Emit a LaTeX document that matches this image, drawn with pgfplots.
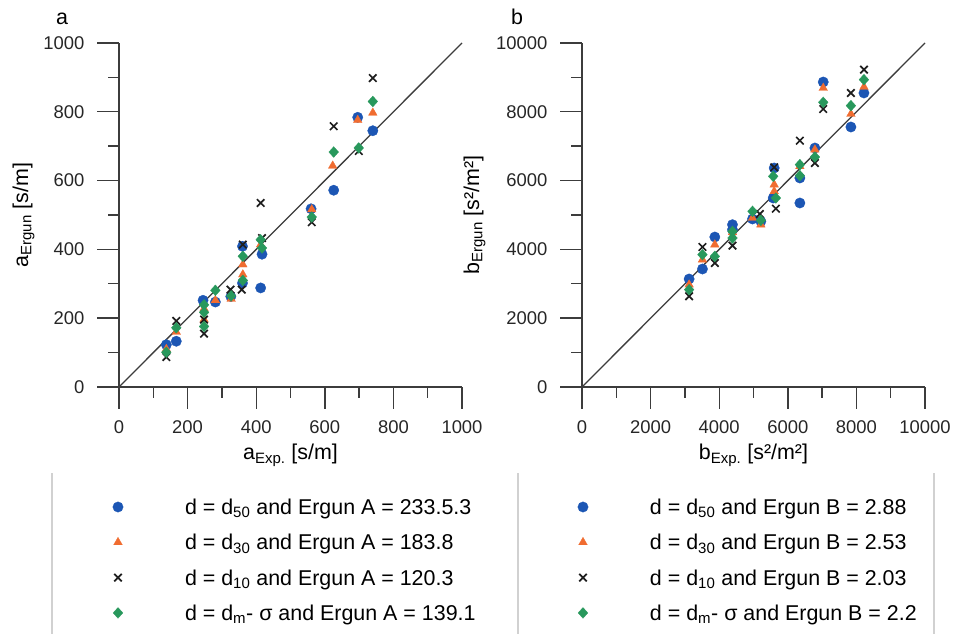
\documentclass[border=0pt]{standalone}
\usepackage{fontspec}
\setmainfont{Liberation Sans}
\usepackage{pgfplots}
\pgfplotsset{compat=1.18}
\definecolor{cblue}{RGB}{28,86,180}
\definecolor{corange}{RGB}{240,108,48}
\definecolor{cgreen}{RGB}{40,152,92}
\definecolor{ccross}{RGB}{30,30,30}
\definecolor{axgray}{RGB}{60,60,60}
\tikzset{tk/.style={axgray, line width=1.4bp}}

\pgfplotsset{
 panel/.style={
  scale only axis, width=343bp, height=344bp,
  xmin=0, ymin=0,
  axis lines*=left,
  axis line style={axgray, line width=1.4bp},
  tick style={draw=none},
  tick align=inside,
  major tick length=0pt, minor tick length=0pt,
  minor tick num=1,
  tick label style={font=\fontsize{18.5}{20}\selectfont, text=black!85, inner sep=0pt},
  xticklabel style={anchor=north, yshift=-33.5bp},
  yticklabel style={anchor=east, xshift=-34.5bp},
  /pgf/number format/assume math mode=true,
  /pgf/number format/1000 sep={},
  label style={font=\fontsize{21.5}{24}\selectfont},
  legend cell align=left,
  legend style={draw=none, fill=none, inner sep=0pt, outer sep=0pt, row sep=16.5bp, column sep=0pt,
     nodes={inner sep=0pt, outer sep=0pt, text height=17bp, text depth=1.8bp, font=\fontsize{21.5}{24}\selectfont}},
 },
 mimg/.style={legend image code/.code={\path[draw=none,fill=none] (-6bp,-6bp) rectangle (67bp,6bp); \draw[##1] plot coordinates {(0bp,0bp)};}},
 sblue/.style={only marks, color=cblue, mark=*, mark size=5.2bp, mark options={solid, draw=cblue, fill=cblue, line width=0.3bp}, mimg},
 sorange/.style={only marks, color=corange, mark=triangle*, mark size=5bp, mark options={solid, draw=corange, fill=corange, line width=0.3bp}, mimg},
 scross/.style={only marks, color=ccross, mark=x, mark size=5.3bp, mark options={solid, draw=ccross, line width=1.7bp}, mimg},
 sgreen/.style={only marks, color=cgreen, mark=diamond*, mark size=5.4bp, mark options={solid, draw=cgreen, fill=cgreen, line width=0.3bp, xscale=1.2}, mimg},
}

\begin{document}
\begin{tikzpicture}
\useasboundingbox (0,0) rectangle (957bp,634bp);

% ---------------- panel a ----------------
\begin{axis}[panel, at={(119bp,247bp)}, anchor=south west,
  xmax=1000, ymax=1000,
  xtick={0,200,...,1000}, ytick={0,200,...,1000},
  xlabel={a\textsubscript{Exp.} [s/m]},
  ylabel={a\textsubscript{Ergun} [s/m]},
  xlabel style={at={(axis description cs:0.5,-0.212)}, anchor=base},
  ylabel style={at={(axis description cs:-0.265,0.5)}, anchor=base, rotate=0},
  legend style={at={(axis description cs:-0.0204,-0.3215)}, anchor=north west},
  clip=false]
\addplot[forget plot, color=axgray, line width=1.3bp] coordinates {(0,0) (1000,1000)};
\addplot[sblue] coordinates {(138,123) (167,133) (245,252) (281,247) (326,263) (360,409) (360,302) (413,288) (417,386) (560,518) (626,572) (696,784) (740,745)};
\addlegendentry{d = d\textsubscript{50} and Ergun A = 233.5.3}
\addplot[sorange] coordinates {(138,110) (167,160) (248,228) (248,196) (281,252) (327,256) (361,356) (361,327) (413,414) (562,516) (623,643) (696,776) (740,797)};
\addlegendentry{d = d\textsubscript{30} and Ergun A = 183.8}
\addplot[scross] coordinates {(138,87) (167,192) (248,196) (248,155) (325,283) (361,414) (358,283) (413,535) (417,433) (562,479) (626,758) (699,686) (740,898)};
\addlegendentry{d = d\textsubscript{10} and Ergun A = 120.3}
\addplot[sgreen] coordinates {(138,101) (167,172) (248,239) (248,217) (248,176) (281,281) (327,265) (361,380) (361,310) (413,428) (417,404) (562,494) (626,683) (699,695) (740,830)};
\addlegendentry{d = d\textsubscript{m}- σ and Ergun A = 139.1}
\pgfplotsinvokeforeach{0,200,...,1000}{
  \draw[tk] (axis cs:#1,0) -- ++(0bp,-22bp);
  \draw[tk] (axis cs:0,#1) -- ++(-22bp,0bp);}
\pgfplotsinvokeforeach{100,300,...,900}{
  \draw[tk] (axis cs:#1,0) -- ++(0bp,-11bp);
  \draw[tk] (axis cs:0,#1) -- ++(-11bp,0bp);}
\end{axis}

% ---------------- panel b ----------------
\begin{axis}[panel, at={(582bp,247bp)}, anchor=south west,
  xmax=10000, ymax=10000,
  xtick={0,2000,...,10000}, ytick={0,2000,...,10000},
  scaled ticks=false,
  xlabel={b\textsubscript{Exp.} [s²/m²]},
  ylabel={b\textsubscript{Ergun} [s²/m²]},
  xlabel style={at={(axis description cs:0.5,-0.212)}, anchor=base},
  ylabel style={at={(axis description cs:-0.300,0.5)}, anchor=base, rotate=0},
  legend style={at={(axis description cs:-0.0146,-0.3215)}, anchor=north west},
  clip=false]
\addplot[forget plot, color=axgray, line width=1.3bp] coordinates {(0,0) (10000,10000)};
\addplot[sblue] coordinates {(3123,3140) (3512,3430) (3872,4360) (4387,4719) (4387,4574) (4971,4884) (5214,4816) (5603,6366) (5574,5494) (6352,6076) (6352,5349) (7033,8866) (6790,6948) (7840,7558) (8220,8547)};
\addlegendentry{d = d\textsubscript{50} and Ergun B = 2.88}
\addplot[sorange] coordinates {(3123,2975) (3512,3702) (3872,4138) (4387,4496) (4971,4913) (5214,4719) (5603,5882) (5603,5688) (6352,6415) (6790,6899) (7033,8692) (7840,7936) (8220,8721)};
\addlegendentry{d = d\textsubscript{30} and Ergun B = 2.53}
\addplot[scross] coordinates {(3123,2636) (3512,4070) (3872,3605) (4387,4109) (5185,5029) (5603,6386) (5652,5184) (6352,7161) (6790,6512) (7033,8081) (7840,8547) (8220,9225)};
\addlegendentry{d = d\textsubscript{10} and Ergun B = 2.03}
\addplot[sgreen] coordinates {(3123,2829) (3512,3847) (3872,3798) (4387,4525) (4387,4331) (4971,5107) (5214,4845) (5574,6124) (5652,5494) (6352,6463) (6352,6143) (6790,6686) (7033,8275) (7840,8178) (8220,8934)};
\addlegendentry{d = d\textsubscript{m}- σ and Ergun B = 2.2}
\pgfplotsinvokeforeach{0,2000,...,10000}{
  \draw[tk] (axis cs:#1,0) -- ++(0bp,-22bp);
  \draw[tk] (axis cs:0,#1) -- ++(-22bp,0bp);}
\pgfplotsinvokeforeach{1000,3000,...,9000}{
  \draw[tk] (axis cs:#1,0) -- ++(0bp,-11bp);
  \draw[tk] (axis cs:0,#1) -- ++(-11bp,0bp);}
\end{axis}

\node[anchor=base, inner sep=0pt, font=\fontsize{21.5}{24}\selectfont] at (62bp,609bp) {a};
\node[anchor=base, inner sep=0pt, font=\fontsize{21.5}{24}\selectfont] at (517bp,609bp) {b};

\draw[black!18, line width=1.5bp] (52bp,0) -- (52bp,161bp);
\draw[black!18, line width=1.5bp] (518bp,0) -- (518bp,161bp);
\draw[black!18, line width=1.5bp] (934bp,0) -- (934bp,161bp);
\end{tikzpicture}
\end{document}
